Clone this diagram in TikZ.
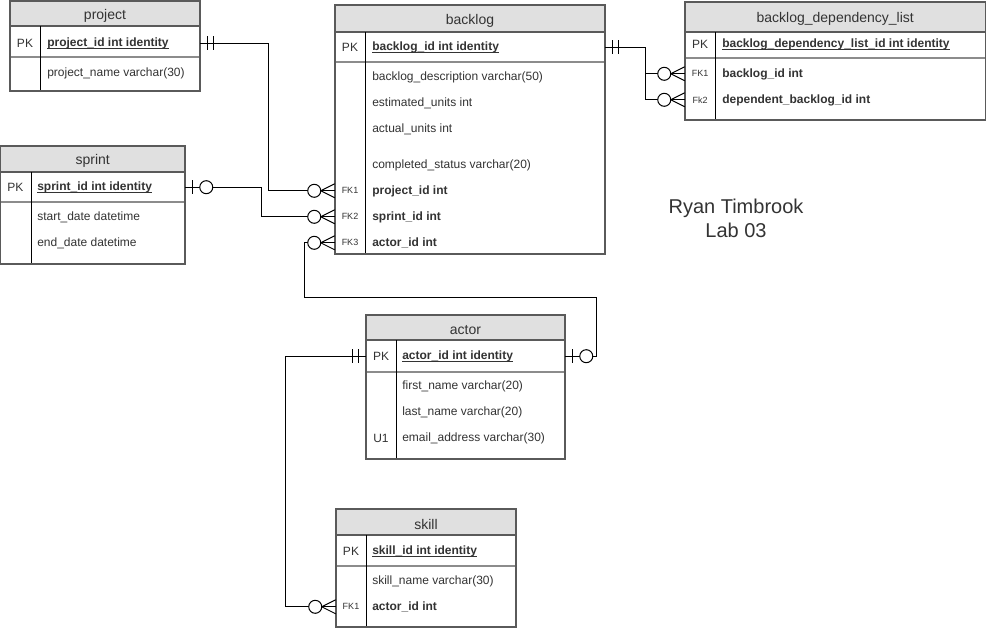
\documentclass[tikz,border=0pt]{standalone}
\usepackage{fontspec}
\setmainfont{Liberation Sans}
\usetikzlibrary{fit,calc}

\definecolor{hdrfill}{HTML}{E0E0E0}
\definecolor{framec}{HTML}{5A5A5A}
\definecolor{sepc}{HTML}{8C8C8C}
\definecolor{txtc}{HTML}{333333}

\tikzset{
  hdrtext/.style={font=\fontsize{10.5pt}{12pt}\selectfont, text=txtc, inner sep=0pt, yshift=-1.2pt},
  rowtxt/.style={font=\fontsize{9pt}{11pt}\selectfont, text=txtc, anchor=west, inner sep=0pt, yshift=-0.9pt},
  pktxt/.style={rowtxt, font=\fontsize{9pt}{11pt}\selectfont\bfseries},
  keytxt/.style={font=\fontsize{9pt}{11pt}\selectfont, text=txtc, inner sep=0pt, yshift=-0.9pt},
  fktxt/.style={font=\fontsize{6.75pt}{8pt}\selectfont, text=txtc, inner sep=0pt, yshift=-0.6pt},
  uline/.style={draw=txtc, line width=0.6pt},
  conn/.style={draw=black, line width=0.75pt},
  pics/mandone/.style={code={
    \draw[conn] (7,-7) -- (7,7) (13,-7) -- (13,7);}},
  pics/zeroone/.style={code={
    \draw[conn] (7,-7) -- (7,7);
    \draw[conn, fill=white] (21,0) circle[radius=4.875pt];}},
  pics/zeromany/.style={code={
    \draw[conn] (0,-7) -- (-14,0) -- (0,7);
    \draw[conn, fill=white] (-20.5,0) circle[radius=4.875pt];}},
}

% table frame: name, x1, y1, x2, y2, header bottom, key separator, column divider, title
\newcommand{\ertable}[9]{%
  \node[fit={(#2,#3) (#4,#5)}, inner sep=0pt] (#1) {};
  \fill[white] (#2,#3) rectangle (#4,#5);
  \fill[hdrfill] (#2,#3) rectangle (#4,#6);
  \draw[framec, line width=1pt] (#2,#6) -- (#4,#6);
  \draw[sepc, line width=1.2pt] (#2,#7) -- (#4,#7);
  \draw[black, line width=0.6pt] (#8,#6) -- (#8,#5);
  \draw[framec, line width=1.1pt] (#2,#3) rectangle (#4,#5);
  \node[hdrtext] (#1-title) at ({(#2+#4)/2},{(#3+#6)/2+0.5}) {#9};
}
% primary key text, bold and underlined
\newcommand{\pkfield}[3]{%
  \node[pktxt] (#1) at (#2) {#3};
  \draw[uline] ([yshift=-1.6pt]#1.base west) -- ([yshift=-1.6pt]#1.base east);
}

\begin{document}
\begin{tikzpicture}[x=0.75pt, y=-0.75pt]
\useasboundingbox (0,0) rectangle (986,628);

% ---------- project ----------
\ertable{project}{10}{1}{200}{91}{26}{57}{40}{project}
\node[keytxt] (pj-pkk) at (25,42) {PK};
\pkfield{pj-pk}{47,42}{project\_id int identity}
\node[rowtxt] (pj-name) at (47,72) {project\_name varchar(30)};

% ---------- sprint ----------
\ertable{sprint}{0.5}{146}{185}{264}{172}{202}{31}{sprint}
\node[keytxt] (sp-pkk) at (15.5,186) {PK};
\pkfield{sp-pk}{37,186}{sprint\_id int identity}
\node[rowtxt] (sp-start) at (37,216) {start\_date datetime};
\node[rowtxt] (sp-end) at (37,242) {end\_date datetime};

% ---------- backlog ----------
\ertable{backlog}{335}{5}{605}{254}{32}{62}{365}{backlog}
\node[keytxt] (bk-pkk) at (350,46) {PK};
\pkfield{bk-pk}{372,46}{backlog\_id int identity}
\node[rowtxt] (bk-desc) at (372,76) {backlog\_description varchar(50)};
\node[rowtxt] (bk-est) at (372,102) {estimated\_units int};
\node[rowtxt] (bk-act) at (372,128) {actual\_units int};
\node[rowtxt] (bk-comp) at (372,164) {completed\_status varchar(20)};
\node[fktxt] (bk-fk1k) at (350,190) {FK1};
\node[pktxt] (bk-fk1) at (372,190) {project\_id int};
\node[fktxt] (bk-fk2k) at (350,216) {FK2};
\node[pktxt] (bk-fk2) at (372,216) {sprint\_id int};
\node[fktxt] (bk-fk3k) at (350,242) {FK3};
\node[pktxt] (bk-fk3) at (372,242) {actor\_id int};

% ---------- backlog_dependency_list ----------
\ertable{bdl}{685}{2}{985.5}{120}{32}{58}{715}{backlog\_dependency\_list}
\node[keytxt] (bd-pkk) at (700,43) {PK};
\pkfield{bd-pk}{722,43}{backlog\_dependency\_list\_id int identity}
\node[fktxt] (bd-fk1k) at (700,73) {FK1};
\node[pktxt] (bd-fk1) at (722,73) {backlog\_id int};
\node[fktxt] (bd-fk2k) at (700,99) {Fk2};
\node[pktxt] (bd-fk2) at (722,99) {dependent\_backlog\_id int};

% ---------- actor ----------
\ertable{actor}{366}{315}{565}{459}{340}{372}{396}{actor}
\node[keytxt] (ac-pkk) at (381,355) {PK};
\pkfield{ac-pk}{402,355}{actor\_id int identity}
\node[rowtxt] (ac-first) at (402,385) {first\_name varchar(20)};
\node[rowtxt] (ac-last) at (402,411) {last\_name varchar(20)};
\node[keytxt] (ac-u1k) at (381,437) {U1};
\node[rowtxt] (ac-email) at (402,437) {email\_address varchar(30)};

% ---------- skill ----------
\ertable{skill}{336}{509}{516}{627}{535}{566}{366}{skill}
\node[keytxt] (sk-pkk) at (351,550) {PK};
\pkfield{sk-pk}{372,550}{skill\_id int identity}
\node[rowtxt] (sk-name) at (372,580) {skill\_name varchar(30)};
\node[fktxt] (sk-fk1k) at (351,606) {FK1};
\node[pktxt] (sk-fk1) at (372,606) {actor\_id int};

% ---------- relationships ----------
% project 1 -- 0..* backlog
\draw[conn] (project.east |- pj-pkk) -- ++(68,0) |- (backlog.west |- bk-fk1k);
\pic at (project.east |- pj-pkk) {mandone};
\pic at (backlog.west |- bk-fk1k) {zeromany};

% sprint 0..1 -- 0..* backlog
\draw[conn] (sprint.east |- sp-pkk) -- ++(76,0) |- (backlog.west |- bk-fk2k);
\pic at (sprint.east |- sp-pkk) {zeroone};
\pic at (backlog.west |- bk-fk2k) {zeromany};

% actor 0..1 -- 0..* backlog
\draw[conn] (backlog.west |- bk-fk3k) -- ++(-30,0) -- ++(0,55)
  -| ($(actor.east |- ac-pkk)+(31,0)$) -- (actor.east |- ac-pkk);
\pic at (backlog.west |- bk-fk3k) {zeromany};
\pic at (actor.east |- ac-pkk) {zeroone};

% backlog 1 -- 0..* backlog_dependency_list (two keys)
\draw[conn] (backlog.east |- bk-pkk) -- ++(40,0) |- (bdl.west |- bd-fk1k);
\draw[conn] (backlog.east |- bk-pkk) -- ++(40,0) |- (bdl.west |- bd-fk2k);
\pic at (backlog.east |- bk-pkk) {mandone};
\pic at (bdl.west |- bd-fk1k) {zeromany};
\pic at (bdl.west |- bd-fk2k) {zeromany};

% actor 1 -- 0..* skill
\draw[conn] (actor.west |- ac-pkk) -- ++(-80,0) |- (skill.west |- sk-fk1k);
\pic[xscale=-1] at (actor.west |- ac-pkk) {mandone};
\pic at (skill.west |- sk-fk1k) {zeromany};

% author caption
\node[font=\fontsize{15pt}{18pt}\selectfont, text=txtc, align=center, inner sep=0pt]
  (caption) at (736,218) {Ryan Timbrook\\Lab 03};
\end{tikzpicture}
\end{document}
